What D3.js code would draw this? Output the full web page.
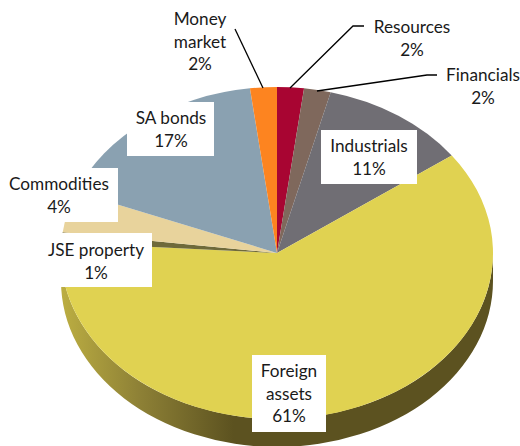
<!DOCTYPE html>
<html>
<head>
<meta charset="utf-8">
<script src="https://cdn.jsdelivr.net/npm/d3@7/dist/d3.min.js"></script>
<style>
html,body{margin:0;padding:0;background:#fff;overflow:hidden}
svg{display:block}
text{font-family:Lato,"Open Sans",sans-serif;font-size:17.2px;fill:#1a1a1a}
</style>
</head>
<body>
<svg id="chart" width="520" height="446"></svg>
<script>
const categories = ["Resources","Financials","Industrials","Foreign assets","JSE property","Commodities","SA bonds","Money market"];
const values = [2,2,11,61,1,4,17,2];
const colors = ["#a80532","#7f685c","#706e74","#e0d251","#6f6a3a","#e8d39c","#8aa1b1","#fd8420"];
const labelLines = [["Resources","2%"],["Financials","2%"],["Industrials","11%"],["Foreign","assets","61%"],["JSE property","1%"],["Commodities","4%"],["SA bonds","17%"],["Money","market","2%"]];
// label layout: box x0,y0,x1,y1
const labelBoxes = [
  [321,130,417,184],
  [252,355,326,432],
  [40,233,152,287],
  [0,168,118,222],
  [127,102,214,156]
];
// label layout: text centre x, first baseline y
const labelText = [
  [412,33],[483,81],[369,152],[289,377],[96,256],[59,190],[171,124],[200,25]
];
const leaders = [
  [[290,88],[353,26],[364,26]],
  [[317,91],[427,75],[437,75]],
  [[263,88],[235,29]]
];

const cx = 277, cy = 253, rx = 216, ry = 166, depth = 28, lineH = 22.5;
const svg = d3.select("#chart");

const defs = svg.append("defs");
const grad = defs.append("linearGradient").attr("id","side")
  .attr("gradientUnits","userSpaceOnUse")
  .attr("x1",cx-rx).attr("x2",cx+rx).attr("y1",0).attr("y2",0);
[[0,"#bcae42"],[0.18,"#8e8136"],[0.4,"#5c5220"],[1,"#5c5220"]].forEach(s=>{
  grad.append("stop").attr("offset",s[0]).attr("stop-color",s[1]);
});

// extruded rim of the pie
svg.append("path")
  .attr("d",`M${cx+rx},${cy} A${rx},${ry} 0 0 1 ${cx-rx},${cy} L${cx-rx},${cy+depth} A${rx},${ry} 0 0 0 ${cx+rx},${cy+depth} Z`)
  .attr("fill","url(#side)");

const pie = d3.pie().sort(null).value(d=>d)(values);
const arc = d3.arc().innerRadius(0).outerRadius(rx);
svg.append("g")
  .attr("transform",`translate(${cx},${cy}) scale(1,${ry/rx})`)
  .selectAll("path").data(pie).join("path")
  .attr("d",arc)
  .attr("fill",(d,i)=>colors[i]);

const line = d3.line();
svg.append("g").selectAll("path")
  .data(leaders).join("path")
  .attr("d",d=>line(d)).attr("fill","none").attr("stroke","#000").attr("stroke-width",1.3);

svg.append("g").selectAll("rect").data(labelBoxes).join("rect")
  .attr("x",d=>d[0]).attr("y",d=>d[1])
  .attr("width",d=>d[2]-d[0]).attr("height",d=>d[3]-d[1])
  .attr("fill","#fff");

const labels = svg.append("g").attr("text-anchor","middle");
categories.forEach((c,i)=>{
  const t = labels.append("text").attr("x",labelText[i][0]).attr("y",labelText[i][1]);
  labelLines[i].forEach((s,j)=>{
    t.append("tspan").attr("x",labelText[i][0]).attr("y",labelText[i][1]+j*lineH).text(s);
  });
});
</script>
</body>
</html>
